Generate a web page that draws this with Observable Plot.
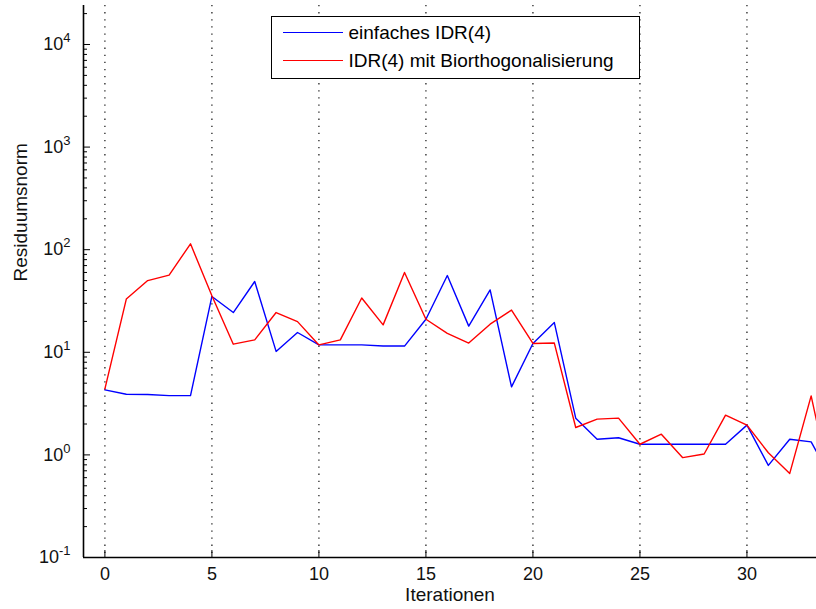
<!DOCTYPE html>
<html>
<head>
<meta charset="utf-8">
<script src="https://cdn.jsdelivr.net/npm/d3@7"></script>
<script src="https://cdn.jsdelivr.net/npm/@observablehq/plot@0.6"></script>
<style>
  body { margin: 0; background: #fff; font-family: "Liberation Sans", Arial, sans-serif; }
  #wrap { position: relative; width: 816px; height: 609px; overflow: hidden; }
  #legend { position: absolute; left: 271px; top: 16px; width: 369px; height: 63px; box-sizing: border-box;
            border: 1.5px solid #000; background: #fff; }
  .item { position: absolute; left: 10.5px; height: 22px; display: flex; align-items: center;
          font-size: 19px; color: #000; white-space: nowrap; }
  .sw { width: 60px; height: 0; border-top: 1.5px solid; margin-right: 6px; }
</style>
</head>
<body>
<div id="wrap">
  <div id="chart"></div>
  <div id="legend"></div>
</div>
<script>
// ---- data ----
const iterations = [0,1,2,3,4,5,6,7,8,9,10,11,12,13,14,15,16,17,18,19,20,21,22,23,24,25,26,27,28,29,30,31,32,33,34];
const einfachIDR = [4.3,3.9,3.88,3.78,3.78,35,24.4,49,10.2,15.6,11.8,11.8,11.8,11.5,11.5,21,56,18,40.5,4.6,12.2,19.5,2.28,1.42,1.47,1.27,1.27,1.27,1.27,1.27,1.95,0.79,1.42,1.34,0.55];
const biorthoIDR = [4.4,33,50,56.6,114,35.6,12.0,13.2,24.4,19.9,11.8,13.2,33.8,18.5,60,21,15.3,12.3,18.8,25.8,12.2,12.3,1.85,2.23,2.28,1.27,1.59,0.94,1.02,2.44,1.95,1.05,0.66,3.76,0.41];
const seriesNames = ["einfaches IDR(4)", "IDR(4) mit Biorthogonalisierung"];
const seriesColors = ["#0000ff", "#ff0000"];
const xTicks = [0,5,10,15,20,25,30];
const yMajor = [0.1,1,10,100,1000,10000];
const yExponents = ["-1","0","1","2","3","4"];
const yMinor = [0.2,0.3,0.4,0.5,0.6,0.7,0.8,0.9,
                2,3,4,5,6,7,8,9,
                20,30,40,50,60,70,80,90,
                200,300,400,500,600,700,800,900,
                2000,3000,4000,5000,6000,7000,8000,9000,
                20000];
const xLabel = "Iterationen";
const yLabel = "Residuumsnorm";

const rowsA = iterations.map((it, i) => ({it, v: einfachIDR[i]}));
const rowsB = iterations.map((it, i) => ({it, v: biorthoIDR[i]}));

const chart = Plot.plot({
  width: 816,
  height: 609,
  marginLeft: 83,
  marginRight: 0,
  marginTop: 5,
  marginBottom: 52,
  style: { fontFamily: "'Liberation Sans', Arial, sans-serif", fontSize: "18px", color: "#000", background: "#fff" },
  x: { domain: [-1, 33.25], label: null },
  y: { type: "log", domain: [0.1, Math.pow(10, 4.38)], label: null },
  marks: [
    Plot.ruleX(xTicks, { stroke: "#222", strokeWidth: 1.3, strokeDasharray: "1.3,5.8" }),
    Plot.line(rowsA, { x: "it", y: "v", stroke: seriesColors[0], strokeWidth: 1.4, clip: true }),
    Plot.line(rowsB, { x: "it", y: "v", stroke: seriesColors[1], strokeWidth: 1.4, clip: true }),
    Plot.ruleX([-1], { stroke: "#000", strokeWidth: 1.6 }),
    Plot.ruleY([0.1], { stroke: "#000", strokeWidth: 1.6 }),
    Plot.axisX(xTicks, { tickSize: -7, tickFormat: () => "", label: null, stroke: "#000" }),
    Plot.axisX(xTicks, { tickSize: 0, tickPadding: 10, label: null, fontSize: 18, fill: "#111" }),
    Plot.axisY(yMajor, { tickSize: -7, tickFormat: () => "", label: null, stroke: "#000" }),
    Plot.axisY(yMinor, { tickSize: -4, tickFormat: () => "", label: null, stroke: "#000" }),
    Plot.axisY(yMajor, { tickSize: 0, tickPadding: 13, tickFormat: () => "10", label: null, fontSize: 18, fill: "#111" }),
    Plot.text([xLabel], { text: d => d, frameAnchor: "bottom", dy: 43, fontSize: 19, fill: "#111" }),
    Plot.text([yLabel], { text: d => d, frameAnchor: "left", dx: -63, rotate: -90, fontSize: 19, fill: "#111" })
  ]
});
document.getElementById("chart").appendChild(chart);

// superscript exponents on the y tick labels
const yLabels = Array.from(chart.querySelectorAll('g[aria-label="y-axis tick label"] text'))
  .filter(t => t.textContent === "10");
yLabels.forEach((t, i) => {
  d3.select(t).append("tspan")
    .attr("dy", "-0.62em")
    .attr("font-size", "13px")
    .text(yExponents[i]);
});

// legend
const legend = document.getElementById("legend");
seriesNames.forEach((name, i) => {
  const item = document.createElement("div");
  item.className = "item";
  item.style.top = (i === 0 ? 4.5 : 32.5) + "px";
  const sw = document.createElement("span");
  sw.className = "sw";
  sw.style.borderColor = seriesColors[i];
  const tx = document.createElement("span");
  tx.textContent = name;
  item.appendChild(sw);
  item.appendChild(tx);
  legend.appendChild(item);
});
</script>
</body>
</html>
